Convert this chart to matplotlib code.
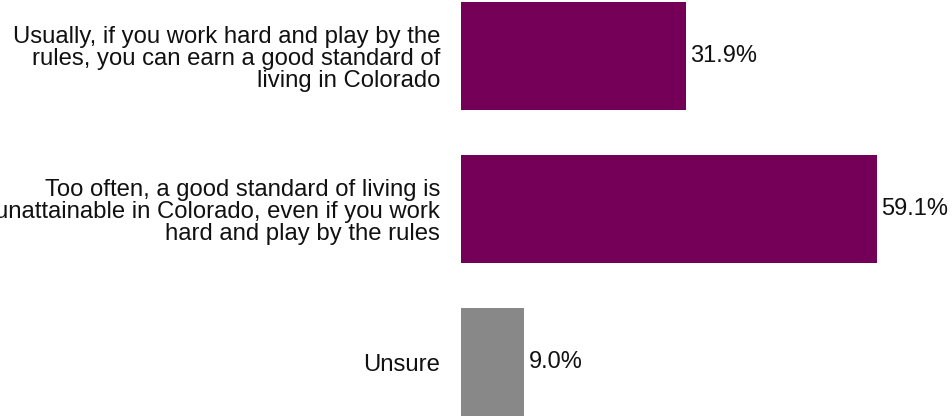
import matplotlib
matplotlib.use("Agg")
import matplotlib.pyplot as plt

categories = [
    "Usually, if you work hard and play by the\nrules, you can earn a good standard of\nliving in Colorado",
    "Too often, a good standard of living is\nunattainable in Colorado, even if you work\nhard and play by the rules",
    "Unsure",
]
values = [31.9, 59.1, 9.0]
value_labels = ["31.9%", "59.1%", "9.0%"]
colors = ["#730056", "#730056", "#888888"]

plt.rcParams['font.family'] = ['Liberation Sans', 'DejaVu Sans']

W, H = 952, 420
fig = plt.figure(figsize=(W / 100, H / 100), dpi=100)
ax = fig.add_axes([461 / W, 0, 1 - 461 / W, 1])

y = list(range(len(categories)))
ax.barh(y, values, height=0.71, color=colors)
ax.set_xlim(0, (W - 461) / 7.04)
ax.set_ylim(2.379, -0.366)

for yi, v, lab in zip(y, values, value_labels):
    ax.text(v + 0.6, yi, lab, va="center", ha="left", fontsize=17, color="#111111")

ax.set_yticks(y)
ax.set_yticklabels(categories, fontsize=17.2, linespacing=1.0, color="#111111")
ax.tick_params(axis="y", length=0, pad=15)
ax.set_xticks([])
for s in ax.spines.values():
    s.set_visible(False)

fig.savefig("out.png", dpi=100)
